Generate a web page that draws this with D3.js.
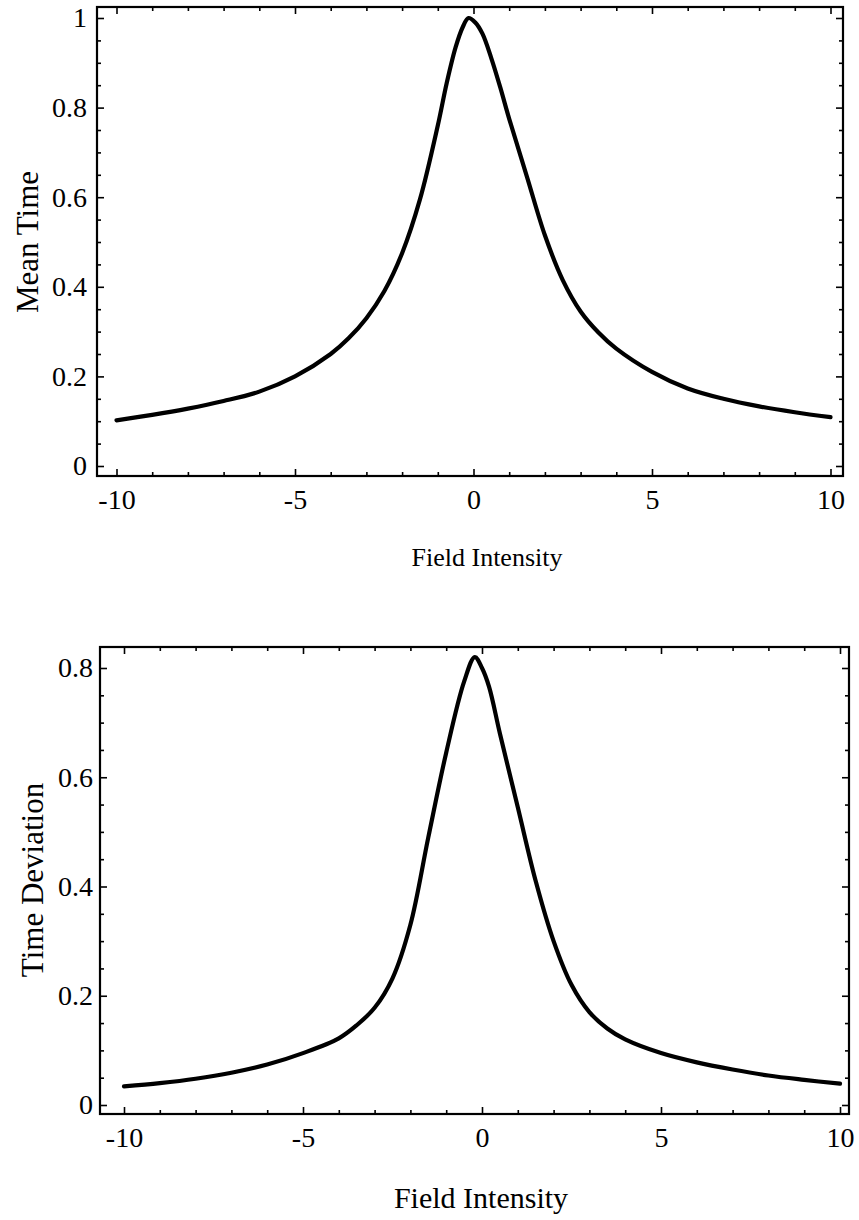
<!DOCTYPE html>
<html>
<head>
<meta charset="utf-8">
<script src="https://cdn.jsdelivr.net/npm/d3@7"></script>
<style>
  body { margin: 0; background: #fff; }
  svg text { font-family: "Liberation Serif", "Times New Roman", serif; fill: #000; }
</style>
</head>
<body>
<svg id="chart" width="859" height="1220"></svg>
<script>
// values
var fieldTop = [-10, -9, -8, -7, -6, -5, -4, -3.5, -3, -2.5, -2, -1.5, -1, -0.75, -0.5, -0.3, -0.14, 0.05, 0.25, 0.5, 0.75, 1, 1.5, 2, 2.5, 3, 3.5, 4, 5, 6, 7, 8, 9, 10];
var meanTime = [0.102, 0.114, 0.128, 0.145, 0.166, 0.20, 0.25, 0.285, 0.33, 0.39, 0.475, 0.595, 0.76, 0.855, 0.935, 0.98, 1.0, 0.99, 0.965, 0.91, 0.845, 0.775, 0.645, 0.515, 0.415, 0.345, 0.298, 0.262, 0.21, 0.173, 0.15, 0.133, 0.12, 0.109];

var fieldBottom = [-10, -9, -8, -7, -6, -5, -4, -3.5, -3, -2.5, -2, -1.5, -1, -0.5, -0.2, 0, 0.2, 0.5, 1, 1.5, 2, 2.5, 3, 3.5, 4, 5, 6, 7, 8, 9, 10];
var timeDeviation = [0.034, 0.040, 0.048, 0.059, 0.074, 0.095, 0.122, 0.146, 0.178, 0.232, 0.33, 0.49, 0.645, 0.775, 0.82, 0.80, 0.765, 0.68, 0.545, 0.41, 0.30, 0.22, 0.17, 0.14, 0.12, 0.095, 0.078, 0.065, 0.054, 0.046, 0.039];

var xTicks = [-10, -5, 0, 5, 10];
var xTickLabels = ["-10", "-5", "0", "5", "10"];
var yTicksTop = [0, 0.2, 0.4, 0.6, 0.8, 1];
var yTickLabelsTop = ["0", "0.2", "0.4", "0.6", "0.8", "1"];
var yTicksBottom = [0, 0.2, 0.4, 0.6, 0.8];
var yTickLabelsBottom = ["0", "0.2", "0.4", "0.6", "0.8"];

var svg = d3.select('#chart');

function drawPanel(p) {
    var x = d3.scaleLinear().domain([-10, 10]).range(p.xRange),
        y = d3.scaleLinear().domain(p.yDomain).range(p.yRange),
        g = svg.append('g');

    var xMinor = d3.range(-10, 10.5, 1).filter(function(v) { return v % 5 !== 0; });
    var yMinor = d3.range(0, p.yMax + 0.001, 0.05).filter(function(v) {
        return Math.abs(v * 5 - Math.round(v * 5)) > 0.01 && y(v) > p.frame.top;
    });

    function styleAxis(sel) {
        sel.select('.domain').remove();
        sel.selectAll('line').attr('stroke', '#000').attr('stroke-width', 1.6);
        sel.selectAll('text').style('font-size', '28px');
    }

    // bottom, labelled
    g.append('g')
        .attr('transform', 'translate(0,' + p.frame.bottom + ')')
        .call(d3.axisBottom(x).tickValues(xTicks).tickSize(-7).tickPadding(13)
            .tickFormat(function(d, i) { return xTickLabels[i]; }))
        .call(styleAxis);
    g.append('g')
        .attr('transform', 'translate(0,' + p.frame.bottom + ')')
        .call(d3.axisBottom(x).tickValues(xMinor).tickSize(-4).tickFormat(''))
        .call(styleAxis);
    // top, no labels
    g.append('g')
        .attr('transform', 'translate(0,' + p.frame.top + ')')
        .call(d3.axisTop(x).tickValues(xTicks).tickSize(-7).tickFormat(''))
        .call(styleAxis);
    g.append('g')
        .attr('transform', 'translate(0,' + p.frame.top + ')')
        .call(d3.axisTop(x).tickValues(xMinor).tickSize(-4).tickFormat(''))
        .call(styleAxis);
    // left, labelled
    g.append('g')
        .attr('transform', 'translate(' + p.frame.left + ',0)')
        .call(d3.axisLeft(y).tickValues(p.yTicks).tickSize(-7).tickPadding(p.yPad)
            .tickFormat(function(d, i) { return p.yLabels[i]; }))
        .call(styleAxis);
    g.append('g')
        .attr('transform', 'translate(' + p.frame.left + ',0)')
        .call(d3.axisLeft(y).tickValues(yMinor).tickSize(-4).tickFormat(''))
        .call(styleAxis);
    // right, no labels
    g.append('g')
        .attr('transform', 'translate(' + p.frame.right + ',0)')
        .call(d3.axisRight(y).tickValues(p.yTicks).tickSize(-7).tickFormat(''))
        .call(styleAxis);
    g.append('g')
        .attr('transform', 'translate(' + p.frame.right + ',0)')
        .call(d3.axisRight(y).tickValues(yMinor).tickSize(-4).tickFormat(''))
        .call(styleAxis);

    // frame
    g.append('rect')
        .attr('x', p.frame.left)
        .attr('y', p.frame.top)
        .attr('width', p.frame.right - p.frame.left)
        .attr('height', p.frame.bottom - p.frame.top)
        .attr('fill', 'none')
        .attr('stroke', '#000')
        .attr('stroke-width', 2.2);

    // curve
    var line = d3.line()
        .x(function(d) { return x(d[0]); })
        .y(function(d) { return y(d[1]); })
        .curve(d3.curveCatmullRom.alpha(0.5));
    g.append('path')
        .datum(d3.zip(p.xs, p.ys))
        .attr('d', line)
        .attr('fill', 'none')
        .attr('stroke', '#000')
        .attr('stroke-width', 4.2)
        .attr('stroke-linecap', 'round');

    // axis titles
    g.append('text')
        .attr('x', p.xTitleX)
        .attr('y', p.xTitleY)
        .attr('text-anchor', 'middle')
        .style('font-size', p.xTitleSize + 'px')
        .text('Field Intensity');
    g.append('text')
        .attr('transform', 'translate(' + p.yTitleX + ',' + p.yTitleY + ') rotate(-90)')
        .attr('text-anchor', 'middle')
        .style('font-size', '31px')
        .text(p.yTitle);
}

drawPanel({
    xs: fieldTop, ys: meanTime,
    xRange: [116.5, 830.5], yDomain: [0, 1], yRange: [466, 18], yMax: 1,
    frame: {left: 97, right: 843, top: 7, bottom: 476},
    yTicks: yTicksTop, yLabels: yTickLabelsTop, yPad: 10,
    xTitleX: 487, xTitleY: 566, xTitleSize: 26,
    yTitle: 'Mean Time', yTitleX: 38, yTitleY: 242
});

drawPanel({
    xs: fieldBottom, ys: timeDeviation,
    xRange: [124, 840], yDomain: [0, 0.8], yRange: [1105, 668], yMax: 0.8,
    frame: {left: 100, right: 849, top: 647, bottom: 1114},
    yTicks: yTicksBottom, yLabels: yTickLabelsBottom, yPad: 7,
    xTitleX: 481, xTitleY: 1208, xTitleSize: 30,
    yTitle: 'Time Deviation', yTitleX: 43, yTitleY: 880
});
</script>
</body>
</html>
